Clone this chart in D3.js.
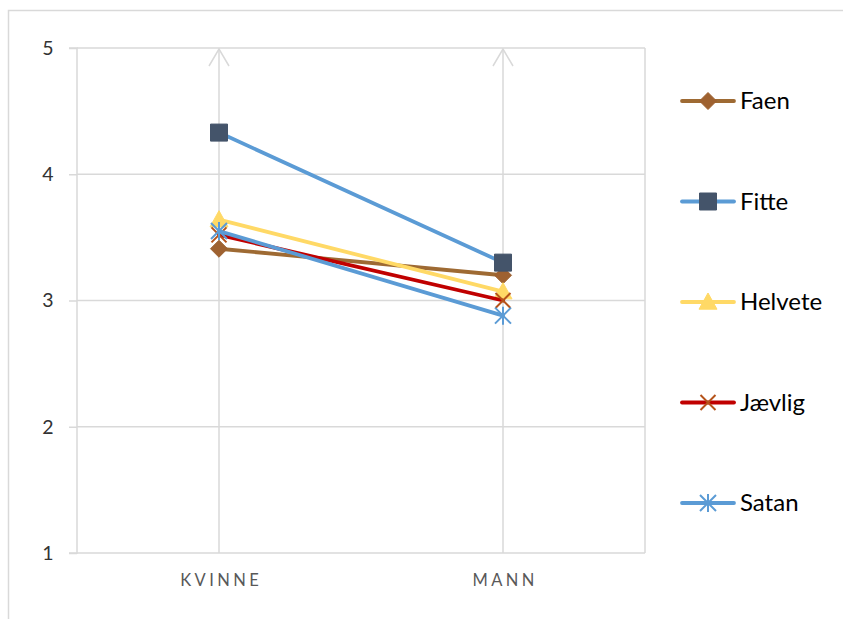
<!DOCTYPE html>
<html>
<head>
<meta charset="utf-8">
<script src="https://cdn.jsdelivr.net/npm/d3@7"></script>
<style>
  html, body { margin: 0; padding: 0; background: #fff; }
  svg { display: block; font-family: Lato, "Noto Sans", sans-serif; }
</style>
</head>
<body>
<svg id="chart" width="843" height="619"></svg>
<script>
// Mean ratings per word, by gender of respondent
const categories = ["KVINNE", "MANN"];
const seriesNames = ["Faen", "Fitte", "Helvete", "Jævlig", "Satan"];
const faen    = [3.41, 3.20];
const fitte   = [4.33, 3.30];
const helvete = [3.64, 3.07];
const jaevlig = [3.52, 3.00];
const satan   = [3.55, 2.88];
const yTicks  = [1, 2, 3, 4, 5];

const seriesValues = [faen, fitte, helvete, jaevlig, satan];
const lineColors   = ["#9E6A33", "#5B9BD5", "#FFD966", "#C00000", "#5B9BD5"];
const markerColors = ["#9E6130", "#44546A", "#FFD966", "#B5531A", "#5B9BD5"];
const markerKinds  = ["diamond", "square", "triangle", "x", "star"];

const svg = d3.select("#chart");
const grid = "#D9D9D9";

// outer chart frame
svg.append("path")
  .attr("d", "M8.5,619 V10.5 H843")
  .attr("fill", "none").attr("stroke", grid).attr("stroke-width", 1.5);

const x = d3.scalePoint().domain(categories).range([77, 645]).padding(0.5);
const y = d3.scaleLinear().domain([1, 5]).range([553, 48]);

// horizontal gridlines
svg.append("g").selectAll("line").data(yTicks).join("line")
  .attr("x1", 77).attr("x2", 645)
  .attr("y1", d => y(d)).attr("y2", d => y(d))
  .attr("stroke", grid).attr("stroke-width", 1.5);

// plot area right edge
svg.append("line")
  .attr("x1", 645).attr("x2", 645).attr("y1", y(5)).attr("y2", y(1))
  .attr("stroke", grid).attr("stroke-width", 1.5);

// vertical category gridlines with arrow heads
const vg = svg.append("g").selectAll("g").data(categories).join("g");
vg.append("line")
  .attr("x1", d => x(d)).attr("x2", d => x(d))
  .attr("y1", y(1)).attr("y2", y(5) + 0.5)
  .attr("stroke", grid).attr("stroke-width", 1.5);
vg.append("path")
  .attr("d", d => `M${x(d) - 10},${y(5) + 18} L${x(d)},${y(5) + 1} L${x(d) + 10},${y(5) + 18}`)
  .attr("fill", "none").attr("stroke", grid).attr("stroke-width", 1.5);

// y axis
const yAxis = d3.axisLeft(y).tickValues(yTicks).tickSize(8).tickPadding(14).tickFormat(d3.format("d"));
const ya = svg.append("g").attr("transform", "translate(77,0)").call(yAxis);
ya.select(".domain").attr("stroke", grid).attr("stroke-width", 1.5).attr("d", `M-8,${y(5)}H0V${y(1)}H-8`);
ya.selectAll(".tick line").attr("stroke", grid).attr("stroke-width", 1.5);
ya.selectAll(".tick text").attr("fill", "#333").style("font-size", "19.5px")
  .style("font-family", "Lato, 'Noto Sans', sans-serif").attr("text-anchor", "middle").attr("x", -29);

// x axis labels
const xAxis = d3.axisBottom(x).tickSize(0).tickPadding(21);
const xa = svg.append("g").attr("transform", `translate(0,${y(1)})`).call(xAxis);
xa.select(".domain").remove();
xa.selectAll(".tick text").attr("fill", "#595959").style("font-size", "16.5px")
  .style("letter-spacing", "3.4px").style("font-family", "Lato, 'Noto Sans', sans-serif")
  .attr("dx", "1.7px");

// marker shapes
function markerPath(kind, cx, cy) {
  switch (kind) {
    case "diamond": { const r = 8.5; return `M${cx},${cy - r}L${cx + r},${cy}L${cx},${cy + r}L${cx - r},${cy}Z`; }
    case "square":  { const r = 8.5; return `M${cx - r},${cy - r}H${cx + r}V${cy + r}H${cx - r}Z`; }
    case "triangle":{ const r = 9;   return `M${cx},${cy - r}L${cx + r},${cy + r * 0.8}L${cx - r},${cy + r * 0.8}Z`; }
    case "x":       { const r = 7.5; return `M${cx - r},${cy - r}L${cx + r},${cy + r}M${cx + r},${cy - r}L${cx - r},${cy + r}`; }
    case "star":    { const r = 8;   return `M${cx - r},${cy - r}L${cx + r},${cy + r}M${cx + r},${cy - r}L${cx - r},${cy + r}M${cx},${cy - r - 1}V${cy + r + 1}`; }
  }
}
function drawMarker(g, kind, color, cx, cy) {
  const open = kind === "x" || kind === "star";
  g.append("path").attr("d", markerPath(kind, cx, cy))
    .attr("fill", open ? "none" : color)
    .attr("stroke", color)
    .attr("stroke-width", open ? 2 : 1)
    .attr("stroke-linejoin", "miter");
}

const line = d3.line().x((d, i) => x(categories[i])).y(d => y(d));

seriesValues.forEach((vals, s) => {
  const g = svg.append("g");
  g.append("path").datum(vals).attr("d", line)
    .attr("fill", "none").attr("stroke", lineColors[s])
    .attr("stroke-width", 3.8).attr("stroke-linecap", "round");
  vals.forEach((v, i) => drawMarker(g, markerKinds[s], markerColors[s], x(categories[i]), y(v)));
});

// legend
const legendY = d3.scalePoint().domain(seriesNames).range([101, 503]);
seriesNames.forEach((name, s) => {
  const g = svg.append("g");
  const ly = legendY(name);
  g.append("line").attr("x1", 682).attr("x2", 734).attr("y1", ly).attr("y2", ly)
    .attr("stroke", lineColors[s]).attr("stroke-width", 3.8).attr("stroke-linecap", "round");
  drawMarker(g, markerKinds[s], markerColors[s], 708, ly);
  g.append("text").attr("x", 740).attr("y", ly).attr("dy", "0.35em")
    .attr("fill", "#000").style("font-size", "24px").text(name);
});
</script>
</body>
</html>
